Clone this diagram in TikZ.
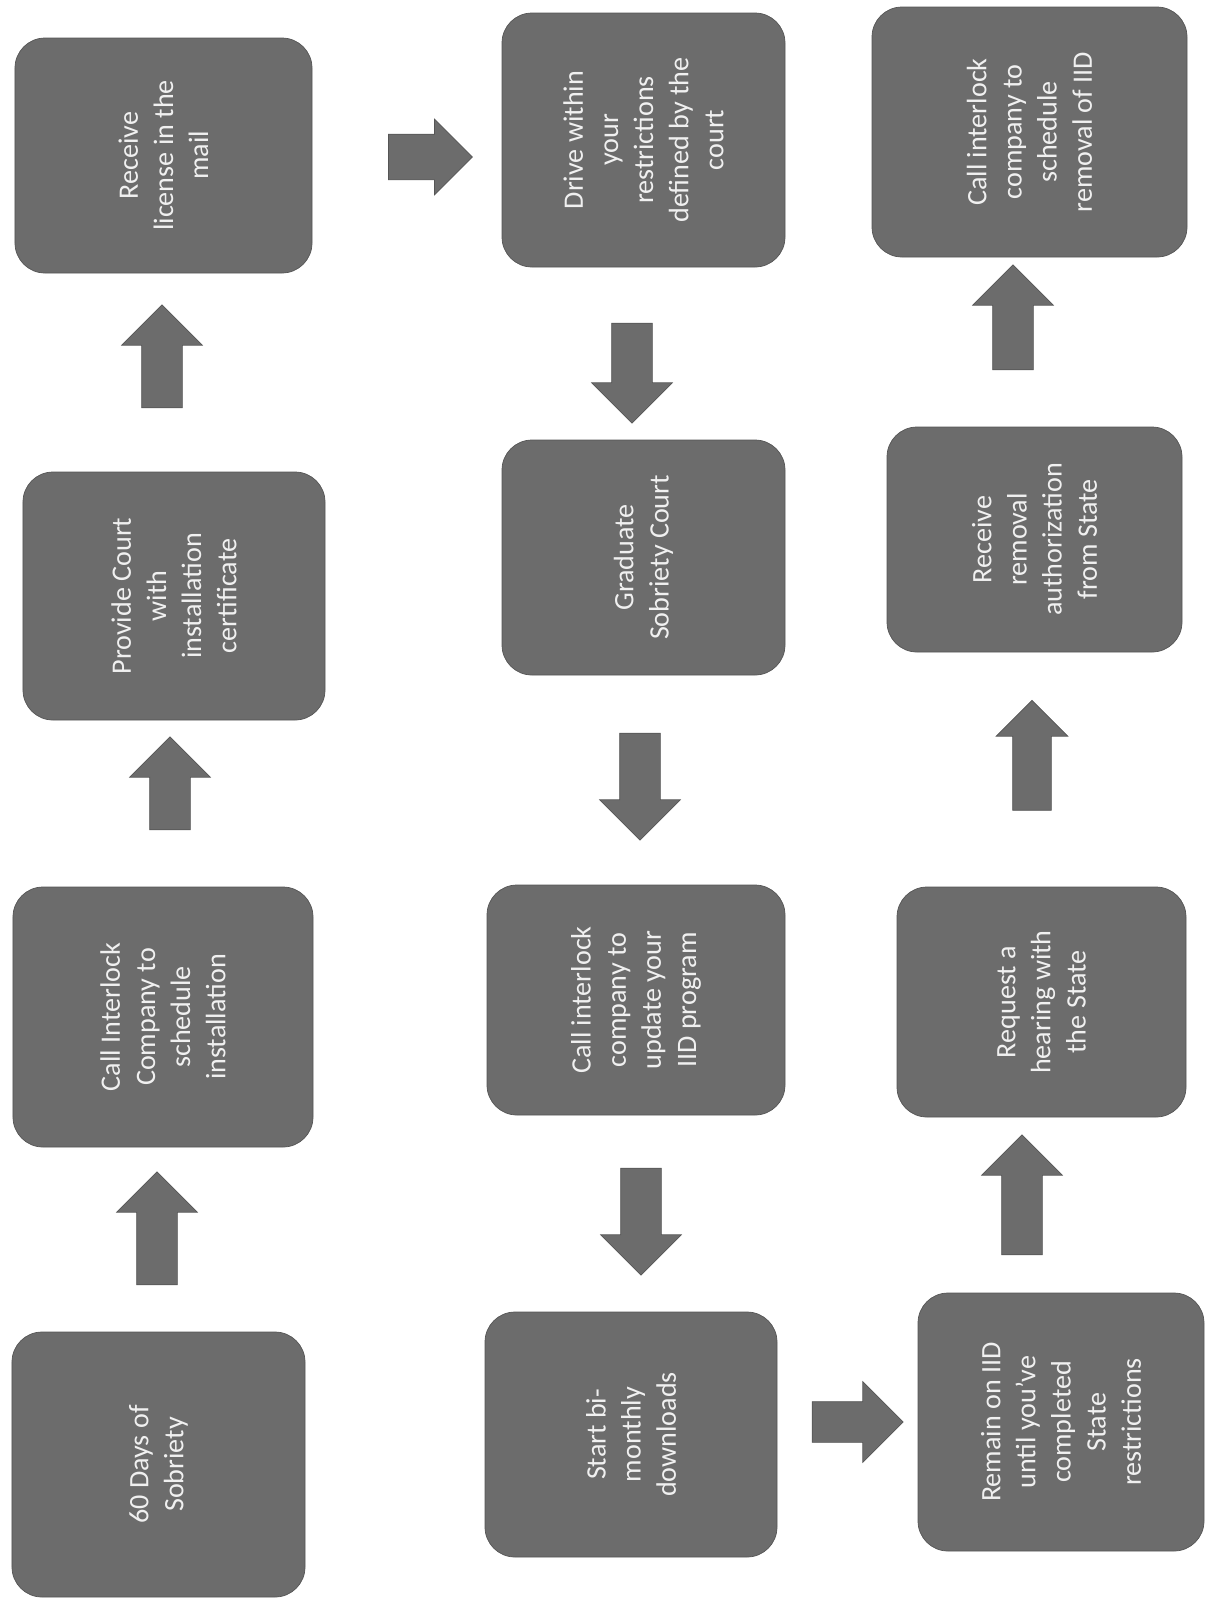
\documentclass[tikz,border=0pt]{standalone}
\usepackage{fontspec}
\setmainfont{Carlito}
\usetikzlibrary{shapes.arrows}

\definecolor{boxgray}{RGB}{108,108,108}
\definecolor{edgegray}{RGB}{85,85,85}
\definecolor{textgray}{RGB}{240,240,240}

\tikzset{
  stepbox/.style={rectangle, rounded corners=6mm, fill=boxgray, draw=edgegray,
    text=textgray, align=center, rotate=90, inner sep=1mm,
    font=\fontsize{16}{20}\selectfont},
  blockarrow/.style={single arrow, fill=boxgray, draw=edgegray, inner sep=4mm,
    single arrow head extend=4mm, single arrow tip angle=90},
  uparrow/.style={blockarrow, shape border rotate=90},
  downarrow/.style={blockarrow, shape border rotate=270},
  rightarrow/.style={blockarrow, shape border rotate=0}
}

\begin{document}
\begin{tikzpicture}[x=0.2mm, y=-0.2mm]
    \useasboundingbox (0,0) rectangle (1207,1602);

    % first column, upwards
    \node[stepbox, minimum width=53mm, minimum height=58.6mm] (sober) at (158.5,1464.5) {60 Days of\\Sobriety};
    \node[stepbox, minimum width=52mm, minimum height=60mm] (callinst) at (163,1017) {Call Interlock\\Company to\\schedule\\installation};
    \node[stepbox, minimum width=49.6mm, minimum height=60.4mm] (provide) at (174,596) {Provide Court\\with\\installation\\certificate};
    \node[stepbox, minimum width=47mm, minimum height=59.4mm] (license) at (163.5,155.5) {Receive\\license in the\\mail};

    % second column, downwards
    \node[stepbox, minimum width=50.8mm, minimum height=56.6mm] (drive) at (643.5,140) {Drive within\\your\\restrictions\\defined by the\\court};
    \node[stepbox, minimum width=47mm, minimum height=56.6mm] (graduate) at (643.5,557.5) {Graduate\\Sobriety Court};
    \node[stepbox, minimum width=46mm, minimum height=59.6mm] (update) at (636,1000) {Call interlock\\company to\\update your\\IID program};
    \node[stepbox, minimum width=49mm, minimum height=58.4mm] (download) at (631,1434.5) {Start bi-\\monthly\\downloads};

    % third column, upwards
    \node[stepbox, minimum width=51.6mm, minimum height=57.2mm] (remain) at (1061,1422) {Remain on IID\\until you’ve\\completed\\State\\restrictions};
    \node[stepbox, minimum width=46mm, minimum height=57.8mm] (hearing) at (1041.5,1002) {Request a\\hearing with\\the State};
    \node[stepbox, minimum width=45mm, minimum height=59mm] (auth) at (1034.5,539.5) {Receive\\removal\\authorization\\from State};
    \node[stepbox, minimum width=50mm, minimum height=63mm] (removal) at (1029.5,132) {Call interlock\\company to\\schedule\\removal of IID};

    % arrows
    \node[uparrow, minimum height=22.6mm] (a1) at (157,1238.5) {};
    \node[uparrow, minimum height=18.6mm] (a2) at (170,793.5) {};
    \node[uparrow, minimum height=20.6mm] (a3) at (162,366.5) {};
    \node[rightarrow, minimum height=16.8mm, inner sep=4.5mm, single arrow head extend=3mm] (a4) at (419,157) {};
    \node[downarrow, minimum height=20mm] (a5) at (632,363) {};
    \node[downarrow, minimum height=21.4mm] (a6) at (640,776.5) {};
    \node[downarrow, minimum height=21.4mm] (a7) at (641,1211.5) {};
    \node[rightarrow, minimum height=18.2mm] (a8) at (847.5,1422) {};
    \node[uparrow, minimum height=24mm] (a9) at (1022,1205) {};
    \node[uparrow, minimum height=22mm, inner sep=3.8mm, single arrow head extend=3.3mm] (a10) at (1032,765) {};
    \node[uparrow, minimum height=21mm] (a11) at (1013,327.5) {};
\end{tikzpicture}
\end{document}
